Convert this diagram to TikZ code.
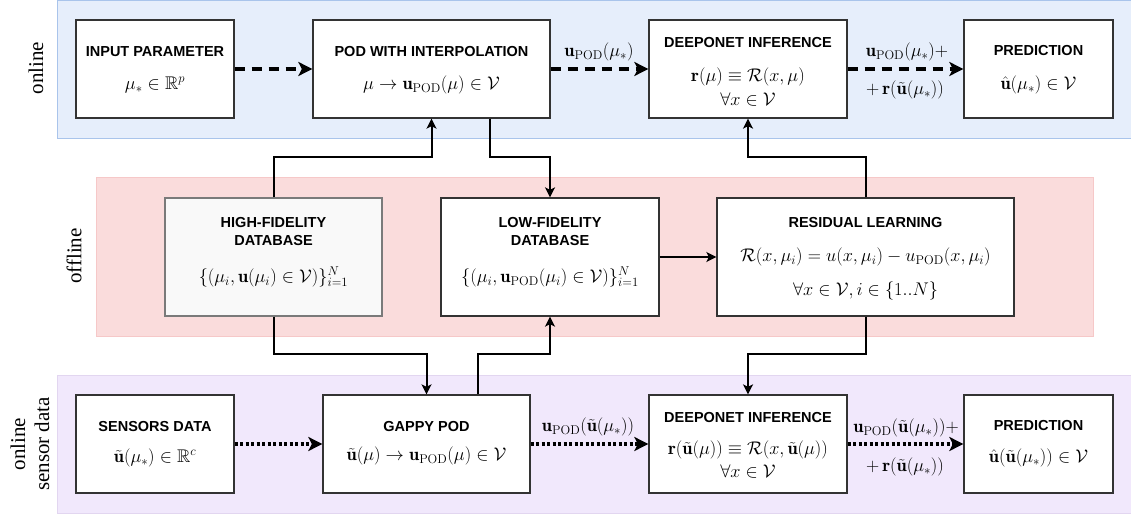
\documentclass[tikz,border=0pt]{standalone}
\usepackage{amsmath,amssymb}
\usepackage{graphicx}
\usepackage{fontspec}
\newfontfamily\tfont{Liberation Sans}
\newfontfamily\sidefont{Liberation Serif}
\usetikzlibrary{arrows.meta,calc}
\definecolor{bluefill}{HTML}{E6EEFB}
\definecolor{blueline}{HTML}{A9C4EB}
\definecolor{pinkfill}{HTML}{FADCDC}
\definecolor{pinkline}{HTML}{F6C8C8}
\definecolor{purpfill}{HTML}{F1E8FC}
\definecolor{purpline}{HTML}{E2D6F0}
\definecolor{boxline}{HTML}{333333}
\definecolor{hfline}{HTML}{7A7A7A}
\definecolor{hffill}{HTML}{F9F9F9}
\newcommand\mm[1]{\scalebox{1.06}{$#1$}}
\begin{document}
\begin{tikzpicture}[x=1pt,y=-1pt,
  box/.style={draw=boxline, line width=1.3pt, fill=white, inner sep=0pt},
  ttl/.style={font=\tfont\bfseries\fontsize{14.5}{17}\selectfont, inner sep=0pt, align=center},
  mth/.style={font=\fontsize{17.28}{21}\selectfont, inner sep=0pt},
  side/.style={font=\sidefont\fontsize{21}{24}\selectfont, rotate=90, align=center, inner sep=0pt},
  con/.style={line width=2pt, -{Stealth[length=10pt,width=10pt,inset=2.5pt]}},
  dsh/.style={line width=3.2pt, dash pattern=on 10pt off 7pt, -{Stealth[length=14pt,width=14pt,inset=3.5pt]}},
  dtt/.style={line width=3.2pt, dash pattern=on 3pt off 2.5pt, -{Stealth[length=14pt,width=14pt,inset=3.5pt]}}
]
\useasboundingbox (0,0) rectangle (1131,516);
% bands
\draw[fill=bluefill, draw=blueline, line width=1pt] (57,0.5) rectangle (1135,138);
\draw[fill=pinkfill, draw=pinkline, line width=1pt] (96,177) rectangle (1093,336);
\draw[fill=purpfill, draw=purpline, line width=1pt] (57,375) rectangle (1135,513);
% side labels
\node[side] (l1) at (36,68) {online};
\node[side] (l2) at (74,256) {offline};
\node[side] (l3) at (30,444) {online\\sensor data};
% top row
\node[box, minimum width=158pt, minimum height=98pt] (inp) at (155,69) {};
\node[box, minimum width=237pt, minimum height=98pt] (pod) at (431.5,69) {};
\node[box, minimum width=198pt, minimum height=98pt] (deep) at (748,69) {};
\node[box, minimum width=149pt, minimum height=98pt] (pred) at (1038.5,69) {};
% middle row
\node[box, fill=hffill, draw=hfline, minimum width=217pt, minimum height=118pt] (hf) at (273.5,257) {};
\node[box, minimum width=218pt, minimum height=118pt] (lf) at (550,257) {};
\node[box, minimum width=297pt, minimum height=118pt] (res) at (865.5,257) {};
% bottom row
\node[box, minimum width=158pt, minimum height=98pt] (sen) at (155,444) {};
\node[box, minimum width=207pt, minimum height=98pt] (gap) at (426.5,444) {};
\node[box, minimum width=198pt, minimum height=98pt] (deepb) at (748,444) {};
\node[box, minimum width=149pt, minimum height=98pt] (predb) at (1038.5,444) {};
% texts top
\node[ttl] (inpT) at (155,52) {INPUT PARAMETER};
\node[mth] (inpM) at (155,85) {\mm{\mu_* \in \mathbb{R}^p}};
\node[ttl] (podT) at (431.5,52) {POD WITH INTERPOLATION};
\node[mth] (podM) at (431.5,85) {\mm{\mu \to \mathbf{u}_{\mathrm{POD}}(\mu) \in \mathcal{V}}};
\node[ttl] (deepT) at (748,43) {DEEPONET INFERENCE};
\node[mth] (deepM1) at (748,77) {\mm{\mathbf{r}(\mu) \equiv \mathcal{R}(x,\mu)}};
\node[mth] (deepM2) at (748,99) {\mm{\forall x \in \mathcal{V}}};
\node[ttl] (predT) at (1038.5,51) {PREDICTION};
\node[mth] (predM) at (1038.5,85) {\mm{\hat{\mathbf{u}}(\mu_*) \in \mathcal{V}}};
% texts middle
\node[ttl] (hfT) at (273.5,232) {HIGH-FIDELITY\\[1pt]DATABASE};
\node[mth] (hfM) at (273.5,277) {\mm{\{(\mu_i, \mathbf{u}(\mu_i) \in \mathcal{V})\}_{i=1}^{N}}};
\node[ttl] (lfT) at (550,232) {LOW-FIDELITY\\[1pt]DATABASE};
\node[mth] (lfM) at (550,277) {\mm{\{(\mu_i, \mathbf{u}_{\mathrm{POD}}(\mu_i) \in \mathcal{V})\}_{i=1}^{N}}};
\node[ttl] (resT) at (865.5,223) {RESIDUAL LEARNING};
\node[mth] (resM1) at (865.5,257) {\mm{\mathcal{R}(x,\mu_i) = u(x,\mu_i) - u_{\mathrm{POD}}(x,\mu_i)}};
\node[mth] (resM2) at (865.5,291) {\mm{\forall x \in \mathcal{V}, i \in \{1..N\}}};
% texts bottom
\node[ttl] (senT) at (155,427) {SENSORS DATA};
\node[mth] (senM) at (155,458) {\mm{\tilde{\mathbf{u}}(\mu_*) \in \mathbb{R}^c}};
\node[ttl] (gapT) at (426.5,427) {GAPPY POD};
\node[mth] (gapM) at (426.5,456) {\mm{\tilde{\mathbf{u}}(\mu) \to \mathbf{u}_{\mathrm{POD}}(\mu) \in \mathcal{V}}};
\node[ttl] (deepbT) at (748,418) {DEEPONET INFERENCE};
\node[mth] (deepbM1) at (748,450) {\mm{\mathbf{r}(\tilde{\mathbf{u}}(\mu)) \equiv \mathcal{R}(x,\tilde{\mathbf{u}}(\mu))}};
\node[mth] (deepbM2) at (748,471) {\mm{\forall x \in \mathcal{V}}};
\node[ttl] (predbT) at (1038.5,426) {PREDICTION};
\node[mth] (predbM) at (1038.5,458) {\mm{\hat{\mathbf{u}}(\tilde{\mathbf{u}}(\mu_*)) \in \mathcal{V}}};
% helper rows
\coordinate (rowA) at (0,157);
\coordinate (rowB) at (0,354);
% connectors
\draw[dsh] (inp) -- (pod);
\draw[dsh] (pod) -- (deep);
\draw[dsh] (deep) -- (pred);
\draw[dtt] (sen) -- (gap);
\draw[dtt] (gap) -- (deepb);
\draw[dtt] (deepb) -- (predb);
\draw[con] (lf) -- (res);
\draw[con] (hf.north) -- (hf.north |- rowA) -| (pod.south);
\coordinate (podOut) at ([xshift=58.5pt]pod.south);
\draw[con] (podOut) -- (podOut |- rowA) -| (lf.north);
\draw[con] (res.north) -- (res.north |- rowA) -| (deep.south);
\draw[con] (hf.south) -- (hf.south |- rowB) -| (gap.north);
\coordinate (gapOut) at ([xshift=51.5pt]gap.north);
\draw[con] (gapOut) -- (gapOut |- rowB) -| (lf.south);
\draw[con] (res.south) -- (res.south |- rowB) -| (deepb.north);
% connector labels
\node[mth] (c1) at (599,52) {\mm{\mathbf{u}_{\mathrm{POD}}(\mu_*)}};
\node[mth] (c2) at (907,52) {\mm{\mathbf{u}_{\mathrm{POD}}(\mu_*)+}};
\node[mth] (c3) at (905,90) {\mm{+\,\mathbf{r}(\tilde{\mathbf{u}}(\mu_*))}};
\node[mth] (c4) at (588,427) {\mm{\mathbf{u}_{\mathrm{POD}}(\tilde{\mathbf{u}}(\mu_*))}};
\node[mth] (c5) at (906,428) {\mm{\mathbf{u}_{\mathrm{POD}}(\tilde{\mathbf{u}}(\mu_*))+}};
\node[mth] (c6) at (905,467) {\mm{+\,\mathbf{r}(\tilde{\mathbf{u}}(\mu_*))}};
\end{tikzpicture}
\end{document}
